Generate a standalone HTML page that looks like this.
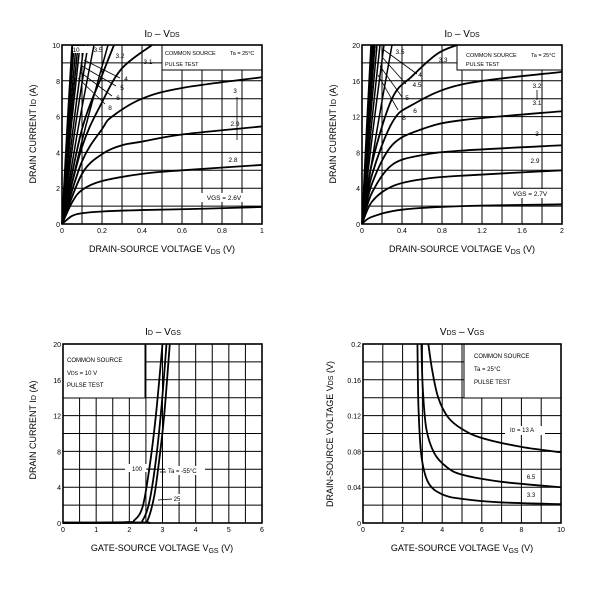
<!DOCTYPE html>
<html><head><meta charset="utf-8"><style>
html,body{margin:0;padding:0;background:#fff;}
svg{display:block;font-family:"Liberation Sans",sans-serif;}
</style></head><body>
<svg id="s" width="600" height="600" viewBox="0 0 600 600" xmlns="http://www.w3.org/2000/svg"></svg>
<script>
const S=document.getElementById('s');let h='';
function T(x,y,t,sz,a,extra){h+=`<text x="${x}" y="${y}" font-size="${sz}" text-anchor="${a||'middle'}" ${extra||''}>${t}</text>`;}
function chart(c){
 const {x0,x1,y0,y1,nx,ny}=c;
 for(let i=1;i<nx;i++){const x=x0+(x1-x0)*i/nx;h+=`<line x1="${x}" y1="${y0}" x2="${x}" y2="${y1}" stroke="#000" stroke-width="1"/>`;}
 for(let j=1;j<ny;j++){const y=y0+(y1-y0)*j/ny;h+=`<line x1="${x0}" y1="${y}" x2="${x1}" y2="${y}" stroke="#000" stroke-width="1"/>`;}
 if(c.box){const b=c.box;h+=`<rect x="${b[0]}" y="${b[1]}" width="${b[2]-b[0]}" height="${b[3]-b[1]}" fill="#fff" stroke="#000" stroke-width="1"/>`;}
 h+=`<rect x="${x0}" y="${y0}" width="${x1-x0}" height="${y1-y0}" fill="none" stroke="#000" stroke-width="1.6"/>`;
 c.xt.forEach((t,i)=>T(x0+(x1-x0)*i/(c.xt.length-1),y1+9,t,7));
 c.yt.forEach((t,i)=>T(x0-2,y1-(y1-y0)*i/(c.yt.length-1)+3,t,7,'end'));
}
function curve(c,pts,w){
 const X=v=>c.x0+(c.x1-c.x0)*v/c.xm, Y=v=>c.y1-(c.y1-c.y0)*v/c.ym;
 const p=pts.map(q=>[X(q[0]),Y(q[1])]);
 let d=`M${p[0][0]},${p[0][1]}`;
 for(let i=0;i<p.length-1;i++){const a=p[i-1]||p[i],b=p[i],e=p[i+1],f=p[i+2]||e;
  d+=` C${b[0]+(e[0]-a[0])/6},${b[1]+(e[1]-a[1])/6} ${e[0]-(f[0]-b[0])/6},${e[1]-(f[1]-b[1])/6} ${e[0]},${e[1]}`;}
 h+=`<path d="${d}" fill="none" stroke="#000" stroke-width="${w||1.8}"/>`;
}
function L(a,b,c2,d){h+=`<line x1="${a}" y1="${b}" x2="${c2}" y2="${d}" stroke="#000" stroke-width="0.8"/>`;}
// Chart 1
let c1={x0:62,x1:262,y0:45,y1:224,nx:10,ny:10,xm:1,ym:10,box:[162,45,262,70],
 xt:['0','','0.2','','0.4','','0.6','','0.8','','1'],yt:['0','','2','','4','','6','','8','','10']};
chart(c1);
curve(c1,[[0,0],[0.05,0.45],[0.1,0.6],[0.2,0.7],[0.4,0.78],[0.7,0.85],[1,0.95]]);
curve(c1,[[0,0],[0.05,1.2],[0.1,1.9],[0.2,2.4],[0.4,2.8],[0.6,3.0],[1,3.3]]);
curve(c1,[[0,0],[0.1,2.8],[0.2,3.9],[0.3,4.4],[0.4,4.6],[0.6,5.0],[1,5.45]]);
curve(c1,[[0,0],[0.1,3.5],[0.2,5.3],[0.25,6.0],[0.4,7.0],[0.6,7.6],[1,8.2]]);
curve(c1,[[0,0],[0.1,4.3],[0.2,6.8],[0.3,8.7],[0.45,10]]);
curve(c1,[[0,0],[0.1,5.3],[0.2,8.3],[0.26,10]]);
[0.23,0.16,0.13,0.11,0.09,0.08,0.07,0.06,0.055,0.05].forEach(v=>curve(c1,[[0,0],[v*0.5,5.3],[v,10]],1.5));
h+=`<rect x="73" y="46" width="7" height="7" fill="#fff"/><rect x="79" y="46" width="10" height="7" fill="#fff"/>`;
T(76,52,'10',6.5);T(98,52,'3.5',6.5);T(120,58,'3.2',6.5);T(148,64,'3.1',6.5);
L(84,60,120,78);L(82,66,116,86);L(80,72,112,96);L(78,78,105,104);
T(126,81,'4',6.5);T(122,90,'5',6.5);T(118,100,'6',6.5);T(110,110,'8',6.5);
T(235,93,'3',6.5);T(235,126,'2.9',6.5);T(233,162,'2.8',6.5);
h+=`<rect x="198" y="193" width="52" height="9" fill="#fff"/>`;T(224,200,'VGS = 2.6V',6.5);
L(237,97,237,140);
T(165,55,'COMMON SOURCE',5.5,'start');T(230,55,'Ta = 25°C',5.5,'start');T(165,66,'PULSE TEST',5.5,'start');
T(162,37,'I<tspan font-size="7">D</tspan> – V<tspan font-size="7">DS</tspan>',10);
T(162,252,'DRAIN-SOURCE VOLTAGE  V<tspan font-size="7" dy="2">DS</tspan><tspan dy="-2">    (V)</tspan>',9);
T(0,0,'DRAIN CURRENT  I<tspan font-size="7">D</tspan>   (A)',9,'middle','transform="translate(36,134) rotate(-90)"');
// Chart 2
let c2={x0:362,x1:562,y0:45,y1:224,nx:10,ny:10,xm:2,ym:20,box:[457,45,562,70],
 xt:['0','','0.4','','0.8','','1.2','','1.6','','2'],yt:['0','','4','','8','','12','','16','','20']};
chart(c2);
curve(c2,[[0,0],[0.1,0.8],[0.4,1.6],[1,2.0],[2,2.2]]);
curve(c2,[[0,0],[0.1,2.5],[0.3,4.2],[0.6,5],[1,5.4],[2,6]]);
curve(c2,[[0,0],[0.1,3.5],[0.3,6.6],[0.6,7.7],[1,8.2],[2,8.8]]);
curve(c2,[[0,0],[0.1,4.5],[0.3,8.8],[0.6,10.6],[1,11.6],[2,12.6]]);
curve(c2,[[0,0],[0.1,5.5],[0.3,11.3],[0.5,13.3],[1,15.6],[2,17]]);
curve(c2,[[0,0],[0.1,6.8],[0.3,14],[0.5,16.5],[0.75,19],[0.95,20]]);
[0.3,0.22,0.18,0.15,0.13,0.12,0.11,0.1,0.09].forEach(v=>curve(c2,[[0,0],[v*0.5,10.5],[v,20]],1.5));
T(374,52,'10',6.5);T(400,54,'3.5',6.5);T(443,62,'3.3',6.5);
L(384,50,417,74);L(382,57,406,84);L(380,66,402,97);L(378,75,398,110);
T(420,77,'4',6.5);T(417,87,'4.5',6.5);T(407,100,'5',6.5);T(415,113,'6',6.5);T(404,120,'8',6.5);
T(537,88,'3.2',6.5);T(537,105,'3.1',6.5);L(537,90,537,100);T(537,136,'3',6.5);T(535,163,'2.9',6.5);
h+=`<rect x="505" y="189" width="50" height="9" fill="#fff"/>`;T(530,196,'VGS = 2.7V',6.5);
T(466,57,'COMMON SOURCE',5.5,'start');T(531,57,'Ta = 25°C',5.5,'start');T(466,66,'PULSE TEST',5.5,'start');
T(462,37,'I<tspan font-size="7">D</tspan> – V<tspan font-size="7">DS</tspan>',10);
T(462,252,'DRAIN-SOURCE VOLTAGE  V<tspan font-size="7" dy="2">DS</tspan><tspan dy="-2">    (V)</tspan>',9);
T(0,0,'DRAIN CURRENT  I<tspan font-size="7">D</tspan>   (A)',9,'middle','transform="translate(336,134) rotate(-90)"');
// Chart 3
let c3={x0:63,x1:262,y0:344,y1:523,nx:12,ny:10,xm:6,ym:20,box:[63,344,145,398],
 xt:['0','','1','','2','','3','','4','','5','','6'],yt:['0','','4','','8','','12','','16','','20']};
chart(c3);
curve(c3,[[0,0.05],[1.9,0.1],[2.15,0.3],[2.4,1.8],[2.6,6],[2.8,12],[3.0,20]]);
curve(c3,[[0,0.02],[2.2,0.05],[2.4,0.3],[2.6,2.3],[2.8,7],[2.97,13],[3.12,20]]);
curve(c3,[[0,0],[2.4,0.05],[2.55,0.3],[2.75,3],[2.9,7],[3.05,12],[3.22,20]]);
T(67,362,'COMMON SOURCE',6,'start');T(67,375,'V<tspan font-size="5">DS</tspan> = 10 V',6,'start');T(67,387,'PULSE TEST',6,'start');
h+=`<rect x="125" y="464" width="22" height="8" fill="#fff"/><rect x="165" y="466" width="40" height="9" fill="#fff"/>`;
T(137,471,'100',6);T(168,473,'Ta = -55°C',6,'start');L(146,469,155,469);L(160,472,166,472);
h+=`<rect x="171" y="494" width="12" height="8" fill="#fff"/>`;T(177,501,'25',6);L(158,500,172,499);
T(163,335,'I<tspan font-size="7">D</tspan> – V<tspan font-size="7">GS</tspan>',10);
T(162,551,'GATE-SOURCE VOLTAGE   V<tspan font-size="7" dy="2">GS</tspan><tspan dy="-2">    (V)</tspan>',9);
T(0,0,'DRAIN CURRENT  I<tspan font-size="7">D</tspan>   (A)',9,'middle','transform="translate(36,430) rotate(-90)"');
// Chart 4
let c4={x0:363,x1:561,y0:344,y1:523,nx:10,ny:10,xm:10,ym:0.2,box:[464,344,561,398],
 xt:['0','','2','','4','','6','','8','','10'],yt:['0','','0.04','','0.08','','0.12','','0.16','','0.2']};
chart(c4);
curve(c4,[[3.3,0.2],[3.5,0.17],[3.8,0.14],[4.3,0.118],[5,0.105],[6,0.095],[8,0.085],[10,0.079]]);
curve(c4,[[2.95,0.2],[3.02,0.15],[3.2,0.105],[3.6,0.078],[4.2,0.063],[5,0.054],[7,0.046],[10,0.04]]);
curve(c4,[[2.75,0.2],[2.8,0.13],[2.95,0.075],[3.3,0.045],[4,0.032],[5,0.027],[7,0.023],[10,0.021]]);
T(474,358,'COMMON SOURCE',6,'start');T(474,371,'Ta = 25°C',6,'start');T(474,384,'PULSE TEST',6,'start');
h+=`<rect x="505" y="426" width="40" height="9" fill="#fff"/>`;T(510,432,'I<tspan font-size="5">D</tspan> = 13 A',6,'start');
T(531,479,'6.5',6);T(531,497,'3.3',6);
T(462,335,'V<tspan font-size="7">DS</tspan> – V<tspan font-size="7">GS</tspan>',10);
T(462,551,'GATE-SOURCE VOLTAGE   V<tspan font-size="7" dy="2">GS</tspan><tspan dy="-2">    (V)</tspan>',9);
T(0,0,'DRAIN-SOURCE VOLTAGE  V<tspan font-size="7">DS</tspan>   (V)',9,'middle','transform="translate(333,434) rotate(-90)"');
S.innerHTML=h;
</script>
</body></html>
